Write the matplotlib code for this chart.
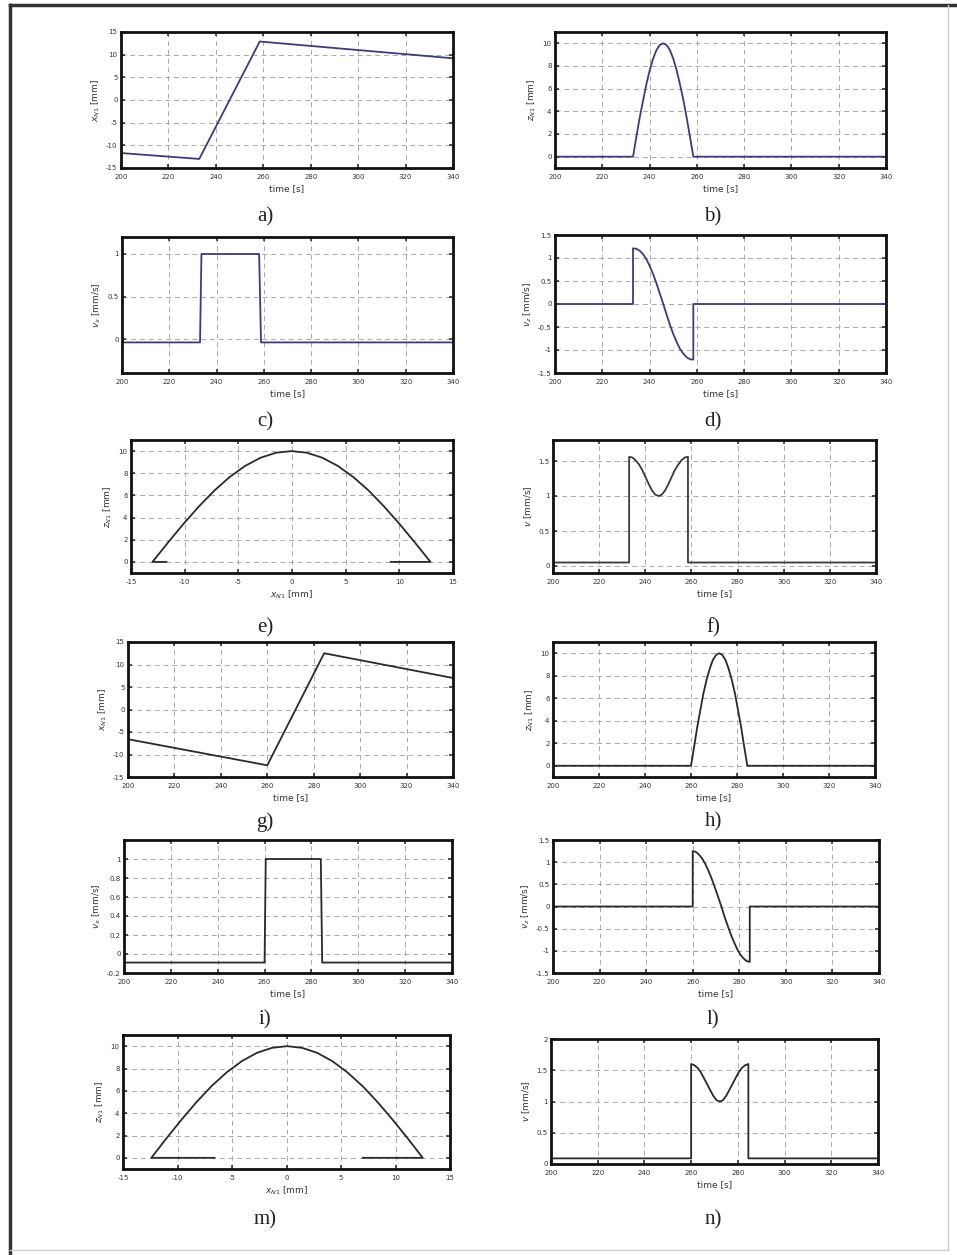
import matplotlib
matplotlib.use("Agg")
import matplotlib.pyplot as plt
from matplotlib.ticker import FuncFormatter
from matplotlib.lines import Line2D

# ---------------- data ----------------
# a) x_N1 vs time (first manoeuvre)
t_a = [200, 233, 258.5, 340]
x_a = [-11.7, -13.0, 12.9, 9.2]

# hump time samples (first manoeuvre)
t_h1 = [233.0, 234.4, 235.8, 237.3, 238.7, 240.1, 241.5, 242.9, 244.3, 245.8,
        247.2, 248.6, 250.0, 251.4, 252.8, 254.3, 255.7, 257.1, 258.5]
z_h1 = [0.0, 1.74, 3.42, 5.0, 6.43, 7.66, 8.66, 9.40, 9.85, 10.0,
        9.85, 9.40, 8.66, 7.66, 6.43, 5.0, 3.42, 1.74, 0.0]
# b) z_N1 vs time
t_b = [200] + t_h1 + [340]
z_b = [0.0] + z_h1 + [0.0]
# c) v_x vs time
t_c = [200, 233, 233.6, 258.0, 258.8, 340]
v_c = [-0.04, -0.04, 1.0, 1.0, -0.04, -0.04]
# d) v_z vs time
vz_h1 = [1.21, 1.20, 1.16, 1.08, 0.97, 0.82, 0.65, 0.45, 0.23, 0.0,
         -0.23, -0.45, -0.65, -0.82, -0.97, -1.08, -1.16, -1.20, -1.21]
t_d = [200, 233] + t_h1 + [258.5, 340]
v_d = [0.0, 0.0] + vz_h1 + [0.0, 0.0]
# e) z_N1 vs x_N1
x_h1 = [-13.0, -11.56, -10.12, -8.68, -7.24, -5.81, -4.37, -2.93, -1.49, -0.05,
        1.39, 2.83, 4.27, 5.71, 7.15, 8.58, 10.02, 11.46, 12.9]
x_e = [-11.7] + x_h1 + [9.2]
z_e = [0.0] + z_h1 + [0.0]
# f) v vs time
v_h1 = [1.56, 1.55, 1.51, 1.45, 1.37, 1.27, 1.17, 1.08, 1.02, 1.0,
        1.02, 1.08, 1.17, 1.27, 1.37, 1.45, 1.51, 1.55, 1.56]
t_f = [200, 233] + t_h1 + [258.5, 340]
v_f = [0.05, 0.05] + v_h1 + [0.05, 0.05]

# g) x_N1 vs time (second manoeuvre)
t_g = [200, 260, 284.5, 340]
x_g = [-6.6, -12.4, 12.5, 7.0]
t_h2 = [260.0, 261.4, 262.7, 264.1, 265.4, 266.8, 268.2, 269.5, 270.9, 272.3,
        273.6, 275.0, 276.3, 277.7, 279.1, 280.4, 281.8, 283.1, 284.5]
z_h2 = [0.0, 1.74, 3.42, 5.0, 6.43, 7.66, 8.66, 9.40, 9.85, 10.0,
        9.85, 9.40, 8.66, 7.66, 6.43, 5.0, 3.42, 1.74, 0.0]
# h) z_N1 vs time
t_hh = [200] + t_h2 + [340]
z_hh = [0.0] + z_h2 + [0.0]
# i) v_x vs time
t_i = [200, 260, 260.5, 284.0, 284.6, 340]
v_i = [-0.09, -0.09, 1.0, 1.0, -0.09, -0.09]
# l) v_z vs time
vz_h2 = [1.25, 1.23, 1.17, 1.08, 0.96, 0.80, 0.62, 0.43, 0.22, 0.0,
         -0.22, -0.43, -0.62, -0.80, -0.96, -1.08, -1.17, -1.23, -1.25]
t_l = [200, 260] + t_h2 + [284.5, 340]
v_l = [0.0, 0.0] + vz_h2 + [0.0, 0.0]
# m) z_N1 vs x_N1
x_h2 = [-12.4, -11.02, -9.63, -8.25, -6.87, -5.48, -4.10, -2.72, -1.33, 0.05,
        1.43, 2.82, 4.20, 5.58, 6.97, 8.35, 9.73, 11.12, 12.5]
x_m = [-6.6] + x_h2 + [7.0]
z_m = [0.0] + z_h2 + [0.0]
# n) v vs time
v_h2 = [1.60, 1.58, 1.54, 1.47, 1.38, 1.28, 1.18, 1.09, 1.02, 1.0,
        1.02, 1.09, 1.18, 1.28, 1.38, 1.47, 1.54, 1.58, 1.60]
t_n = [200, 260] + t_h2 + [284.5, 340]
v_n = [0.09, 0.09] + v_h2 + [0.09, 0.09]

time_ticks = [200, 220, 240, 260, 280, 300, 320, 340]
pos_ticks = [-15, -10, -5, 0, 5, 10, 15]
z_ticks = [0, 2, 4, 6, 8, 10]

# ---------------- figure ----------------
W, H = 957, 1255
fig = plt.figure(figsize=(W / 100, H / 100), dpi=100)
fig.patch.set_facecolor("white")

def px_axes(left, top, right, bottom):
    return fig.add_axes([left / W, 1 - bottom / H, (right - left) / W, (bottom - top) / H])

fmt = FuncFormatter(lambda v, p: ("%g" % v))

def style(ax, xlim, ylim, xticks, yticks, xlabel, ylabel):
    ax.set_xlim(*xlim)
    ax.set_ylim(*ylim)
    ax.set_xticks(xticks)
    ax.set_yticks(yticks)
    ax.xaxis.set_major_formatter(fmt)
    ax.yaxis.set_major_formatter(fmt)
    ax.grid(True, color="#a8a8a8", linestyle=(0, (5, 4)), linewidth=0.7)
    ax.tick_params(direction="in", top=True, right=True, length=3, width=1.2,
                   labelsize=5, colors="#333333")
    ax.tick_params(axis="x", pad=4)
    ax.tick_params(axis="y", pad=2.5)
    for s in ax.spines.values():
        s.set_linewidth(2.0)
        s.set_color("#111111")
    ax.set_xlabel(xlabel, fontsize=6.5, labelpad=3, color="#333333")
    ax.set_ylabel(ylabel, fontsize=6.5, labelpad=3, color="#333333")

blue = "#3c3c7c"
dark = "#2a2a2a"

# a)
ax = px_axes(121, 32, 453, 168)
ax.plot(t_a, x_a, color=blue, lw=1.3)
style(ax, (200, 340), (-15, 15), time_ticks, pos_ticks, "time [s]", r"$x_{N1}$ [mm]")
# b)
ax = px_axes(555, 32, 886, 168)
ax.plot(t_b, z_b, color=blue, lw=1.3)
style(ax, (200, 340), (-1, 11), time_ticks, z_ticks, "time [s]", r"$z_{N1}$ [mm]")
# c)
ax = px_axes(122, 237, 453, 373)
ax.plot(t_c, v_c, color=blue, lw=1.3)
style(ax, (200, 340), (-0.4, 1.2), time_ticks, [0, 0.5, 1], "time [s]", r"$v_x$ [mm/s]")
# d)
ax = px_axes(555, 235, 886, 373)
ax.plot(t_d, v_d, color=blue, lw=1.3)
style(ax, (200, 340), (-1.5, 1.5), time_ticks, [-1.5, -1, -0.5, 0, 0.5, 1, 1.5],
      "time [s]", r"$v_z$ [mm/s]")
# e)
ax = px_axes(131, 440, 453, 573)
ax.plot(x_e, z_e, color=dark, lw=1.3)
style(ax, (-15, 15), (-1, 11), pos_ticks, z_ticks, r"$x_{N1}$ [mm]", r"$z_{N1}$ [mm]")
# f)
ax = px_axes(553, 440, 876, 573)
ax.plot(t_f, v_f, color="#3a3a3a", lw=1.3)
style(ax, (200, 340), (-0.1, 1.8), time_ticks, [0, 0.5, 1, 1.5], "time [s]", r"$v$ [mm/s]")
# g)
ax = px_axes(128, 642, 453, 777)
ax.plot(t_g, x_g, color=dark, lw=1.3)
style(ax, (200, 340), (-15, 15), time_ticks, pos_ticks, "time [s]", r"$x_{N1}$ [mm]")
# h)
ax = px_axes(553, 642, 875, 777)
ax.plot(t_hh, z_hh, color=dark, lw=1.3)
style(ax, (200, 340), (-1, 11), time_ticks, z_ticks, "time [s]", r"$z_{N1}$ [mm]")
# i)
ax = px_axes(124, 840, 452, 973)
ax.plot(t_i, v_i, color=dark, lw=1.3)
style(ax, (200, 340), (-0.2, 1.2), time_ticks, [-0.2, 0, 0.2, 0.4, 0.6, 0.8, 1],
      "time [s]", r"$v_x$ [mm/s]")
# l)
ax = px_axes(553, 840, 879, 973)
ax.plot(t_l, v_l, color=dark, lw=1.3)
style(ax, (200, 340), (-1.5, 1.5), time_ticks, [-1.5, -1, -0.5, 0, 0.5, 1, 1.5],
      "time [s]", r"$v_z$ [mm/s]")
# m)
ax = px_axes(123, 1035, 450, 1169)
ax.plot(x_m, z_m, color=dark, lw=1.3)
style(ax, (-15, 15), (-1, 11), pos_ticks, z_ticks, r"$x_{N1}$ [mm]", r"$z_{N1}$ [mm]")
# n)
ax = px_axes(551, 1039, 878, 1164)
ax.plot(t_n, v_n, color=dark, lw=1.3)
style(ax, (200, 340), (0, 2), time_ticks, [0, 0.5, 1, 1.5, 2], "time [s]", r"$v$ [mm/s]")

# sub-figure labels
labels = ["a)", "b)", "c)", "d)", "e)", "f)", "g)", "h)", "i)", "l)", "m)", "n)"]
label_y = [217, 217, 422, 422, 628, 628, 822, 822, 1020, 1020, 1220, 1220]
label_x = [265, 713]
for k, lab in enumerate(labels):
    fig.text(label_x[k % 2] / W, 1 - label_y[k] / H, lab, ha="center", va="center",
             fontsize=15, family="Liberation Serif", color="#222222")

# page frame
fig.add_artist(Line2D([10 / W, 1.0], [1 - 5 / H, 1 - 5 / H], color="#333333", lw=2.5))
fig.add_artist(Line2D([10 / W, 10 / W], [0.0, 1 - 5 / H], color="#333333", lw=2.5))
fig.add_artist(Line2D([948 / W, 948 / W], [1 - 1250 / H, 1 - 5 / H], color="#cccccc", lw=1.0))
fig.add_artist(Line2D([10 / W, 948 / W], [1 - 1250 / H, 1 - 1250 / H], color="#cccccc", lw=1.0))

fig.savefig("out.png", dpi=100, facecolor="white")
